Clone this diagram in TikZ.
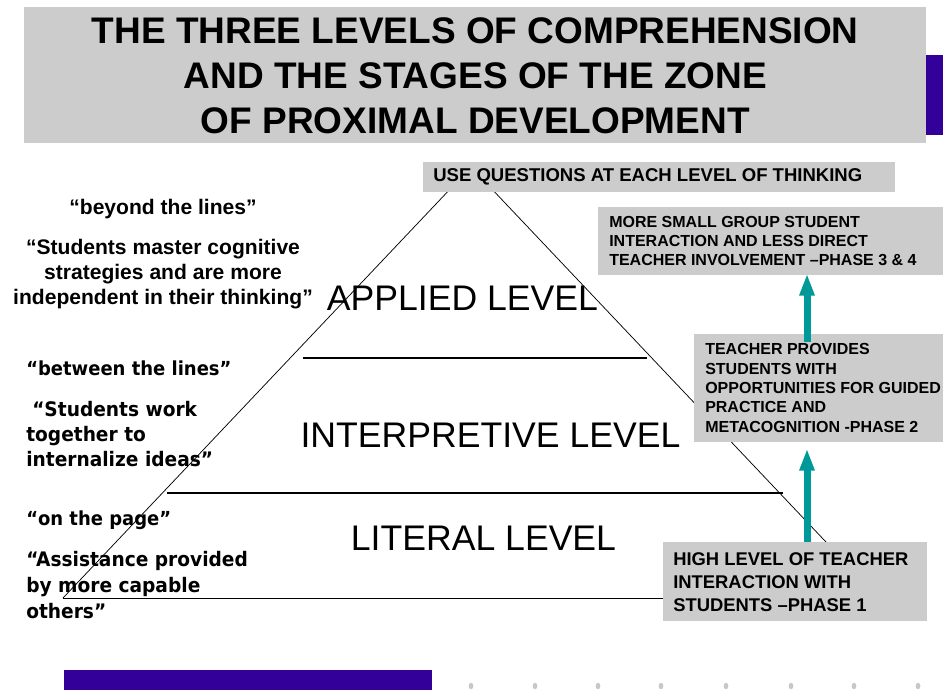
\documentclass[tikz,border=0pt]{standalone}
\usepackage{fontspec}
\setmainfont{Liberation Sans}
\newfontfamily\vfont{DejaVu Sans}[FakeStretch=0.93]
\usetikzlibrary{arrows.meta,calc}
\definecolor{boxgray}{RGB}{204,204,204}
\definecolor{deeppurple}{RGB}{51,0,153}
\definecolor{tealc}{RGB}{0,153,153}
\definecolor{dotgray}{RGB}{200,200,200}
\begin{document}
\begin{tikzpicture}[x=0.75pt,y=-0.75pt,
  graybox/.style={fill=boxgray, draw=none, inner sep=0pt, anchor=north west},
  purplebar/.style={fill=deeppurple, draw=none, inner sep=0pt, anchor=north west},
  titletext/.style={font=\bfseries\fontsize{27.75}{33.75}\selectfont, align=center, inner sep=0pt},
  leveltext/.style={font=\fontsize{26.7}{30}\selectfont, inner sep=0pt},
  arialquote/.style={font=\bfseries\fontsize{15.8}{18.75}\selectfont, inner sep=0pt},
  quotetext/.style={font=\vfont\bfseries\fontsize{15}{18.75}\selectfont, inner sep=0pt},
  quotesingle/.style={font=\vfont\bfseries\fontsize{14.5}{18}\selectfont, inner sep=0pt, anchor=west},
  boxtext/.style={font=\bfseries\fontsize{12}{14.4}\selectfont, align=left, anchor=west, inner sep=0pt},
  edgeline/.style={draw=black, line width=0.55pt},
  levelline/.style={draw=black, line width=0.8pt},
  tealarrow/.style={draw=tealc, line width=5.25pt, -{Triangle[length=16.5pt,width=10.5pt]}}]
\useasboundingbox (0,0) rectangle (943,690);

% pyramid
\coordinate (apex) at (471,167);
\coordinate (bl) at (63,598);
\coordinate (br) at (879,598);
\draw[edgeline] (bl) -- (apex) -- (br);
\draw[edgeline] (bl) -- (br);
\coordinate (l1a) at (303,358); \coordinate (l1b) at (647,358);
\coordinate (l2a) at (167,493); \coordinate (l2b) at (783,493);
\draw[levelline] (l1a) -- (l1b);
\draw[levelline] (l2a) -- (l2b);

% title
\node[graybox, minimum width=676.5pt, minimum height=102pt] (titlebox) at (24,7) {};
\node[purplebar, minimum width=12.75pt, minimum height=60pt] (sidebar) at (926,55) {};
\node[titletext] (title) at (titlebox.center) {THE THREE LEVELS OF COMPREHENSION\\AND THE STAGES OF THE ZONE\\OF PROXIMAL DEVELOPMENT};

% boxes
\node[graybox, minimum width=354pt, minimum height=22.5pt] (usebox) at (423,162) {};
\node[boxtext, font=\bfseries\fontsize{13.9}{16}\selectfont] (usetext) at (433,177) {USE QUESTIONS AT EACH LEVEL OF THINKING};

\node[graybox, minimum width=258.75pt, minimum height=51pt] (top) at (598,207) {};
\node[boxtext, font=\bfseries\fontsize{12}{14.25}\selectfont] (toptext) at (609,241) {MORE SMALL GROUP STUDENT\\INTERACTION AND LESS DIRECT\\TEACHER INVOLVEMENT –PHASE 3 \& 4};

\node[graybox, minimum width=186.75pt, minimum height=81pt] (teach) at (694,334) {};
\node[boxtext, font=\bfseries\fontsize{12}{14.6}\selectfont] (teachtext) at (705,388) {TEACHER PROVIDES\\STUDENTS WITH\\OPPORTUNITIES FOR GUIDED\\PRACTICE AND\\METACOGNITION -PHASE 2};

\node[graybox, minimum width=198pt, minimum height=59.25pt] (high) at (663,542) {};
\node[boxtext, font=\bfseries\fontsize{13.8}{17.25}\selectfont] (hightext) at (673,582) {HIGH LEVEL OF TEACHER\\INTERACTION WITH\\STUDENTS –PHASE 1};

% level labels
\node[leveltext] (applied) at (462.5,298) {APPLIED LEVEL};
\node[leveltext] (interp) at (490.5,435) {INTERPRETIVE LEVEL};
\node[leveltext] (literal) at (483.5,538) {LITERAL LEVEL};

% left texts
\node[arialquote] (beyond) at (163,209) {“beyond the lines”};
\node[arialquote, align=center] (master) at (163,274) {“Students master cognitive\\strategies and are more\\independent in their thinking”};
\node[quotesingle] (between) at (26,368) {“between the lines”};
\node[quotetext, anchor=west, align=left] (work) at (26,434) {\hspace*{4.5pt}“Students work\\together to\\internalize ideas”};
\node[quotesingle] (onpage) at (26,520) {“on the page”};
\node[quotetext, anchor=west, align=left, font=\vfont\bfseries\fontsize{15}{19.5}\selectfont] (assist) at (26,585) {“Assistance provided\\by more capable\\others”};

% arrows
\coordinate (ax) at (807,0);
\draw[tealarrow] (high.north -| ax) -- ($(teach.south -| ax)+(0,6)$);
\draw[tealarrow] ($(teach.north -| ax)+(0,8)$) -- ($(top.south -| ax)+(0,-2)$);

% footer
\node[purplebar, minimum width=276pt, minimum height=15pt] (footbar) at (64,670) {};
\foreach \dx in {471,535,598,661,726,791,854,918}
  \fill[dotgray] (\dx,686) ellipse [x radius=1.8pt, y radius=2.4pt];
\end{tikzpicture}
\end{document}
